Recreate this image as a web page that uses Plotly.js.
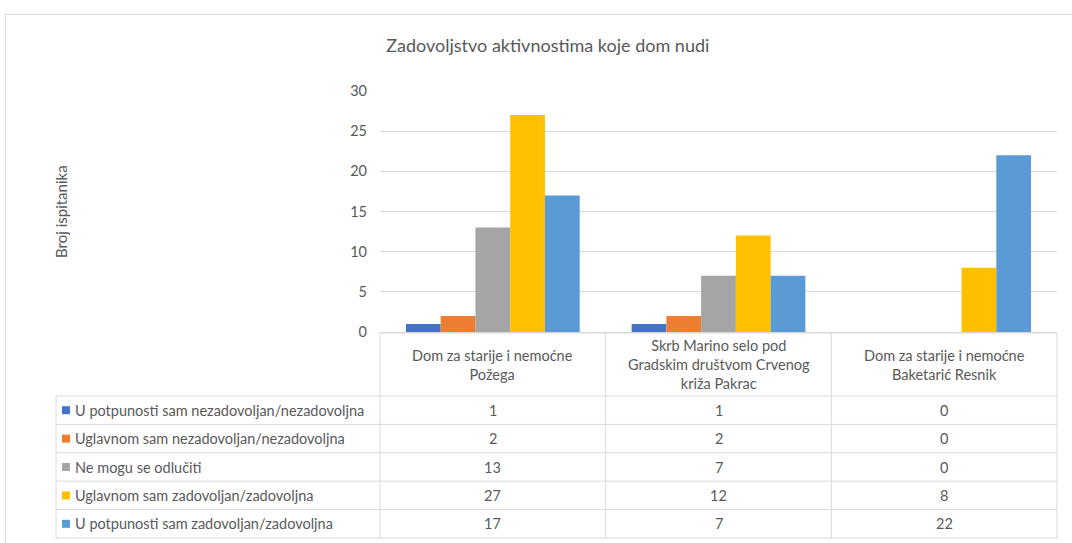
<!DOCTYPE html>
<html><head><meta charset="utf-8">
<script src="https://cdn.plot.ly/plotly-3.0.1.min.js"></script>
<style>html,body{margin:0;padding:0;background:#fff}#chart{width:1072px;height:543px}</style>
</head><body><div id="chart"></div>
<script>
const categories = ["Dom za starije i nemoćne<br>Požega", "Skrb Marino selo pod<br>Gradskim društvom Crvenog<br>križa Pakrac", "Dom za starije i nemoćne<br>Baketarić Resnik"];
const seriesNames = ["U potpunosti sam nezadovoljan/nezadovoljna", "Uglavnom sam nezadovoljan/nezadovoljna", "Ne mogu se odlučiti", "Uglavnom sam zadovoljan/zadovoljna", "U potpunosti sam zadovoljan/zadovoljna"];
const s1 = [1, 1, 0];
const s2 = [2, 2, 0];
const s3 = [13, 7, 0];
const s4 = [27, 12, 8];
const s5 = [17, 7, 22];
const seriesValues = [s1, s2, s3, s4, s5];
const colors = ["#4472C4", "#ED7D31", "#A5A5A5", "#FFC000", "#5B9BD5"];
const yTicks = [0, 5, 10, 15, 20, 25, 30];

const W = 1072, H = 543;
const L = 380, R = 1057, T = 91, B = 332;
const pw = R - L, ph = B - T;
const px = x => (x - L) / pw;
const py = y => (B - y) / ph;
const FONT = "Lato, Calibri, sans-serif";
const TXT = "#595959";
const LINE = "#D9D9D9";
const FS = 14.5;

const traces = seriesNames.map((n, i) => ({
  type: "bar", name: n, x: [0, 1, 2], y: seriesValues[i],
  marker: {color: colors[i]}, hoverinfo: "y"
}));

const shapes = [];
const ann = [];
function hline(x0, x1, y) { shapes.push({type: "line", xref: "paper", yref: "paper", x0: px(x0), x1: px(x1), y0: py(y), y1: py(y), line: {color: LINE, width: 1}}); }
function vline(x, y0, y1) { shapes.push({type: "line", xref: "paper", yref: "paper", x0: px(x), x1: px(x), y0: py(y0), y1: py(y1), line: {color: LINE, width: 1}}); }

// outer chart border
shapes.push({type: "rect", xref: "paper", yref: "paper", x0: px(5.5), x1: px(1080), y0: py(14.5), y1: py(560), line: {color: LINE, width: 1}, fillcolor: "rgba(0,0,0,0)"});

// table grid
const colEdges = [380, 605.7, 831.3, 1057];
const headTop = 333, headBot = 396;
const rowH = 28.4;
const legL = 56;
hline(colEdges[0], colEdges[3], headTop);
for (let r = 0; r <= seriesNames.length; r++) hline(legL, colEdges[3], headBot + r * rowH);
colEdges.forEach(x => vline(x, headTop, headBot + seriesNames.length * rowH));
vline(legL, headBot, headBot + seriesNames.length * rowH);

// header texts
categories.forEach((c, j) => {
  ann.push({xref: "paper", yref: "paper", x: px((colEdges[j] + colEdges[j + 1]) / 2), y: py((headTop + headBot) / 2),
    text: c, showarrow: false, xanchor: "center", yanchor: "middle", align: "center",
    font: {family: FONT, size: FS, color: TXT}});
});
// rows
seriesNames.forEach((n, i) => {
  const yc = headBot + (i + 0.5) * rowH;
  shapes.push({type: "rect", xref: "paper", yref: "paper", x0: px(62), x1: px(70), y0: py(yc - 4), y1: py(yc + 4), line: {width: 0}, fillcolor: colors[i]});
  ann.push({xref: "paper", yref: "paper", x: px(73), y: py(yc), text: n, showarrow: false, xanchor: "left", yanchor: "middle",
    font: {family: FONT, size: FS, color: TXT}});
  seriesValues[i].forEach((v, j) => {
    ann.push({xref: "paper", yref: "paper", x: px((colEdges[j] + colEdges[j + 1]) / 2), y: py(yc), text: String(v), showarrow: false,
      xanchor: "center", yanchor: "middle", font: {family: FONT, size: FS, color: TXT}});
  });
});
// y axis title
ann.push({xref: "paper", yref: "paper", x: px(61), y: py(212), text: "Broj ispitanika", textangle: -90, showarrow: false,
  xanchor: "center", yanchor: "middle", font: {family: FONT, size: 15, color: TXT}});

const layout = {
  width: W, height: H,
  margin: {l: L, r: W - R, t: T, b: H - B, pad: 0},
  paper_bgcolor: "#fff", plot_bgcolor: "#fff",
  title: {text: "Zadovoljstvo aktivnostima koje dom nudi", x: 0.511, xanchor: "center", y: 1 - 46 / H, yanchor: "middle",
    font: {family: FONT, size: 18, color: TXT}},
  showlegend: false,
  barmode: "group", bargap: 0.23, bargroupgap: 0,
  xaxis: {range: [-0.5, 2.5], showticklabels: false, showgrid: false, zeroline: false, showline: false, ticks: "", fixedrange: true},
  yaxis: {range: [0, 30], tickvals: yTicks, showgrid: true, gridcolor: LINE, gridwidth: 1, zeroline: true, zerolinecolor: LINE,
    showline: false, ticks: "", ticklabelstandoff: 12, tickfont: {family: FONT, size: FS, color: TXT}, fixedrange: true},
  shapes: shapes, annotations: ann
};
Plotly.newPlot("chart", traces, layout, {displayModeBar: false, staticPlot: true});
</script></body></html>
